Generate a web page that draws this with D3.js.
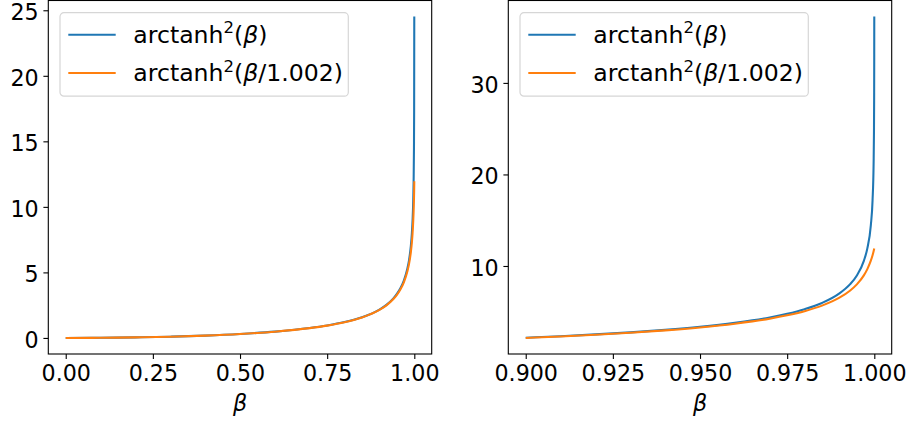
<!DOCTYPE html>
<html>
<head>
<meta charset="utf-8">
<script src="https://cdn.jsdelivr.net/npm/d3@7"></script>
<style>
  body { margin: 0; background: #fff; }
  svg { display: block; font-family: "DejaVu Sans", sans-serif; }
</style>
</head>
<body>
<div id="chart"></div>
<script>
// values
const betaLeft = [0, 0.1, 0.2, 0.3, 0.4, 0.5, 0.6, 0.7, 0.75, 0.8, 0.85, 0.9, 0.92, 0.94, 0.95, 0.96, 0.97, 0.98, 0.985, 0.99, 0.993, 0.995, 0.997, 0.998, 0.999, 0.9995, 0.9999];
const blueLeft = [0, 0.010, 0.041, 0.096, 0.179, 0.302, 0.480, 0.752, 0.947, 1.207, 1.578, 2.167, 2.525, 3.021, 3.355, 3.787, 4.377, 5.279, 5.960, 7.005, 7.985, 8.967, 10.565, 11.926, 14.442, 17.197, 24.52];
const orangeLeft = [0, 0.010, 0.041, 0.095, 0.179, 0.300, 0.478, 0.747, 0.940, 1.197, 1.563, 2.140, 2.487, 2.966, 3.286, 3.694, 4.246, 5.064, 5.667, 6.532, 7.294, 7.989, 8.973, 9.657, 10.576, 11.174, 11.95];

const betaRight = [0.9, 0.91, 0.92, 0.93, 0.94, 0.95, 0.96, 0.965, 0.97, 0.975, 0.98, 0.985, 0.99, 0.993, 0.995, 0.997, 0.998, 0.999, 0.9995, 0.9998, 0.9999, 0.99995, 0.99998, 0.99999];
const blueRight = [2.167, 2.333, 2.525, 2.750, 3.021, 3.355, 3.787, 4.056, 4.377, 4.773, 5.279, 5.960, 7.005, 7.985, 8.967, 10.565, 11.926, 14.442, 17.197, 21.207, 24.519, 28.072, 33.137, 37.247];
const orangeRight = [2.140, 2.301, 2.487, 2.705, 2.966, 3.286, 3.694, 3.947, 4.246, 4.609, 5.064, 5.667, 6.532, 7.294, 7.989, 8.973, 9.657, 10.576, 11.174, 11.606, 11.765, 11.847, 11.898, 11.915];

const xTicksLeft = [0, 0.25, 0.5, 0.75, 1.0];
const yTicksLeft = [0, 5, 10, 15, 20, 25];
const xTicksRight = [0.9, 0.925, 0.95, 0.975, 1.0];
const yTicksRight = [10, 20, 30];

// legend labels: [text, superscript, italic arg, rest]
const legendLabels = [["arctanh", "2", "β", ")"], ["arctanh", "2", "β", "/1.002)"]];
const colors = ["#1f77b4", "#ff7f0e"];

const W = 912, H = 426;
const axTop = 0.5, axBottom = 354;
const tickFont = 22.2, legendFont = 23.6;

const svg = d3.select("#chart").append("svg")
  .attr("width", W)
  .attr("height", H);

svg.append("rect").attr("width", W).attr("height", H).attr("fill", "#fff");

function padded(ext) {
  const p = (ext[1] - ext[0]) * 0.05;
  return [ext[0] - p, ext[1] + p];
}

function drawPanel(left, right, beta, series, xTicks, yTicks, xFmt) {
  const x = d3.scaleLinear()
    .domain(padded(d3.extent(beta)))
    .range([left, right]);
  const y = d3.scaleLinear()
    .domain(padded(d3.extent(series.flat())))
    .range([axBottom, axTop]);

  const g = svg.append("g");

  // curves
  const line = d3.line()
    .x((d, i) => x(beta[i]))
    .y(d => y(d))
    .curve(d3.curveMonotoneX);

  series.forEach((s, k) => {
    g.append("path")
      .datum(s)
      .attr("fill", "none")
      .attr("stroke", colors[k])
      .attr("stroke-width", 2.08)
      .attr("stroke-linecap", "butt")
      .attr("d", line);
  });

  // x axis
  const xa = g.append("g")
    .attr("transform", `translate(0,${axBottom})`)
    .call(d3.axisBottom(x).tickValues(xTicks).tickFormat(xFmt).tickSize(4.9).tickPadding(6.5).tickSizeOuter(0));
  xa.select(".domain").remove();
  xa.selectAll("line").attr("stroke", "#000").attr("stroke-width", 1.1);
  xa.selectAll("text").attr("fill", "#000").attr("font-size", tickFont).attr("font-family", "DejaVu Sans");

  // y axis
  const ya = g.append("g")
    .attr("transform", `translate(${left},0)`)
    .call(d3.axisLeft(y).tickValues(yTicks).tickFormat(d3.format("d")).tickSize(4.9).tickPadding(4.8).tickSizeOuter(0));
  ya.select(".domain").remove();
  ya.selectAll("line").attr("stroke", "#000").attr("stroke-width", 1.1);
  ya.selectAll("text").attr("fill", "#000").attr("font-size", tickFont).attr("font-family", "DejaVu Sans").attr("dy", "0.43em");

  // frame
  g.append("rect")
    .attr("x", left)
    .attr("y", axTop)
    .attr("width", right - left)
    .attr("height", axBottom - axTop)
    .attr("fill", "none")
    .attr("stroke", "#000")
    .attr("stroke-width", 1.1);

  // x label
  g.append("text")
    .attr("x", (left + right) / 2)
    .attr("y", 410.5)
    .attr("text-anchor", "middle")
    .attr("font-size", tickFont)
    .attr("font-style", "italic")
    .text("β");

  // legend
  const lx = left + 11.7, ly = axTop + 12.2;
  const lg = g.append("g").attr("transform", `translate(${lx},${ly})`);
  lg.append("rect")
    .attr("width", 288.3)
    .attr("height", 83.5)
    .attr("rx", 4)
    .attr("fill", "#fff")
    .attr("fill-opacity", 0.8)
    .attr("stroke", "#d6d6d6")
    .attr("stroke-width", 1.2);

  legendLabels.forEach((parts, k) => {
    const ry = 22 + k * 38.3;
    lg.append("line")
      .attr("x1", 8.3).attr("x2", 55.7)
      .attr("y1", ry).attr("y2", ry)
      .attr("stroke", colors[k])
      .attr("stroke-width", 2.08);
    const t = lg.append("text")
      .attr("x", 73.3)
      .attr("y", ry + 8)
      .attr("font-size", legendFont)
      .attr("fill", "#000");
    t.append("tspan").text(parts[0]);
    t.append("tspan").attr("font-size", 16.5).attr("dy", -9.4).text(parts[1]);
    t.append("tspan").attr("dy", 9.4).text("(");
    t.append("tspan").attr("font-style", "italic").text(parts[2]);
    t.append("tspan").text(parts[3]);
  });
}

drawPanel(48.3, 431.7, betaLeft, [blueLeft, orangeLeft], xTicksLeft, yTicksLeft, d3.format(".2f"));
drawPanel(508.3, 891.7, betaRight, [blueRight, orangeRight], xTicksRight, yTicksRight, d3.format(".3f"));
</script>
</body>
</html>
